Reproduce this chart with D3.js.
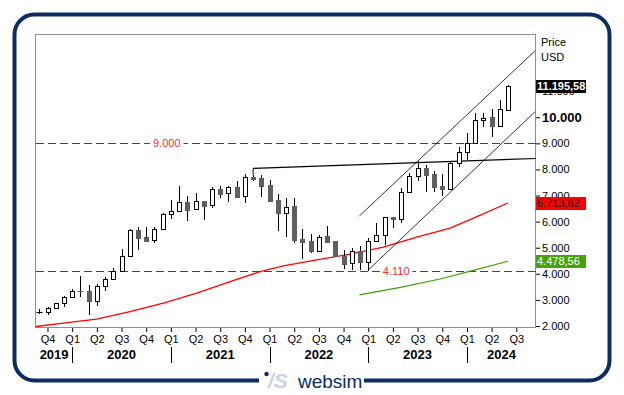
<!DOCTYPE html>
<html>
<head>
<meta charset="utf-8">
<script src="https://cdn.jsdelivr.net/npm/d3@7"></script>
<style>
  body { margin: 0; background: #fff; }
  svg { display: block; font-family: "Liberation Sans", Arial, sans-serif; }
</style>
</head>
<body>
<script>
// monthly candles, Sep 2019 .. Jun 2024 (index 0 = Sep 2019)
var open  = [2520, 2530, 2683, 2874, 3104, 3345, 3345, 2974, 3526, 3805,
             4112, 4675, 5682, 5400, 5288, 5709, 6295, 6390, 6744, 6475,
             6794, 6629, 7242, 7088, 7318, 6985, 7701, 7663, 7406, 6832,
             6322, 6602, 5338, 5261, 4889, 5453, 5261, 4698, 4407, 4889,
             4445, 5261, 5491, 6169, 6092, 7150, 7751, 8046, 7828, 7368,
             7242, 8238, 8682, 9004, 9897, 10000, 9678, 10280];
var high  = [2650, 2744, 2886, 3166, 3434, 3920, 3575, 3614, 3870, 4215,
             4955, 5709, 5809, 5786, 5786, 6322, 6832, 7380, 6973, 7088,
             6794, 7318, 7368, 7368, 7548, 7828, 7790, 7790, 7598, 7062,
             6920, 6897, 5721, 5518, 5491, 5836, 5261, 4916, 4981, 5069,
             5364, 5962, 6192, 6169, 7290, 7855, 8314, 8173, 7954, 7828,
             8299, 8874, 9387, 10153, 10176, 10318, 10663, 11237];
var low   = [2460, 2426, 2675, 2744, 3100, 3127, 2426, 2771, 3345, 3794,
             4112, 4636, 4916, 5234, 5196, 5709, 6104, 6384, 6039, 6475,
             6066, 6514, 6920, 6767, 6958, 6728, 7571, 6958, 6805, 5656,
             5403, 5196, 4583, 4790, 4889, 5173, 4660, 4177, 4150, 4150,
             4110, 5234, 5108, 5748, 5939, 7150, 7560, 7150, 7119, 6985,
             7215, 8107, 8364, 9004, 9640, 9234, 9640, 10253];
var close = [2530, 2683, 2874, 3104, 3345, 3330, 2974, 3526, 3805, 4112,
             4675, 5682, 5388, 5261, 5709, 6295, 6399, 6744, 6449, 6782,
             6613, 7242, 7073, 7318, 6958, 7701, 7648, 7368, 6805, 6322,
             6575, 5299, 5234, 4889, 5426, 5234, 4698, 4380, 4878, 4445,
             5261, 5491, 6169, 6092, 7150, 7751, 8046, 7790, 7341, 7242,
             8238, 8682, 9004, 9897, 9985, 9678, 10306, 11195.58];

// quarter labels, first one sits on Oct 2019 (index 1), then every 3 months
var quarterLabels = ["Q4", "Q1", "Q2", "Q3", "Q4", "Q1", "Q2", "Q3", "Q4", "Q1",
                     "Q2", "Q3", "Q4", "Q1", "Q2", "Q3", "Q4", "Q1", "Q2", "Q3"];
var yearLabels = ["2019", "2020", "2021", "2022", "2023", "2024"];
var yTicks = [2000, 3000, 4000, 5000, 6000, 7000, 8000, 9000, 10000, 11000];

// moving averages: [month index, value]
var redMA = [[-0.44, 1978], [2.92, 2108], [6.98, 2261], [11.03, 2553], [15.09, 2874],
             [19.15, 3257], [23.2, 3702], [26.85, 4085], [29.68, 4303], [33.75, 4533],
             [37.8, 4752], [41.85, 5020], [45.9, 5403], [49.96, 5748], [52.8, 6131],
             [57, 6713.62]];
var greenMA = [[38.93, 3192], [43.9, 3480], [48.75, 3800], [53, 4150], [57, 4478.56]];

// trend lines: [month index, value]
var resistance = [[26, 8039], [60.4, 8422]];
var resistanceTick = [[26, 8039], [26, 7790]];
var channelTop = [[38.93, 6219], [60.3, 12551]];
var channelBottom = [[40.02, 4150], [60.3, 10215]];

var levels = [9000, 4110];
var levelLabelAt = [15.5, 43.4];
var lastValues = [11195.58, 6713.62, 4478.56];

var plot = { left: 36, right: 536, top: 34, bottom: 328 };

var de = d3.formatLocale({ decimal: ",", thousands: ".", grouping: [3], currency: ["", ""] });
var fmt0 = de.format(",.0f"),
    fmt2 = de.format(",.2f");

var x = d3.scaleLinear().domain([-0.4, 60.4]).range([plot.left, plot.right]);
var y = d3.scaleLinear().domain([1923, 13191]).range([plot.bottom, plot.top]);

function cx(i) { return Math.round(x(i)) + 0.5; }

var svg = d3.select("body").append("svg")
    .attr("width", 624)
    .attr("height", 395);

// outer frame
svg.append("rect")
    .attr("x", 14.5).attr("y", 14.5)
    .attr("width", 595).attr("height", 366)
    .attr("rx", 20)
    .attr("fill", "#fff")
    .attr("stroke", "#0b2d5f")
    .attr("stroke-width", 4);

svg.append("defs").append("clipPath").attr("id", "clip")
    .append("rect")
    .attr("x", plot.left).attr("y", plot.top)
    .attr("width", plot.right - plot.left).attr("height", plot.bottom - plot.top);

// plot border
svg.append("rect")
    .attr("x", plot.left - 0.5).attr("y", plot.top + 0.5)
    .attr("width", plot.right - plot.left).attr("height", plot.bottom - plot.top - 1)
    .attr("fill", "none")
    .attr("stroke", "#8c8ca0");

var g = svg.append("g").attr("clip-path", "url(#clip)");

// dashed levels with labels
levels.forEach(function (v, k) {
    var yy = Math.round(y(v)) + 0.5;
    g.append("line")
        .attr("x1", plot.left).attr("x2", plot.right)
        .attr("y1", yy).attr("y2", yy)
        .attr("stroke", "#e8000b")
        .attr("stroke-dasharray", "8,4");
    var t = g.append("text")
        .attr("x", x(levelLabelAt[k]))
        .attr("y", yy)
        .attr("dy", "0.35em")
        .attr("text-anchor", "middle")
        .attr("font-size", 11)
        .attr("fill", "#ff2a2a")
        .text(fmt0(v));
    var bb = t.node().getBBox();
    g.insert("rect", function () { return t.node(); })
        .attr("x", bb.x - 3).attr("y", bb.y)
        .attr("width", bb.width + 6).attr("height", bb.height)
        .attr("fill", "#fff");
});

// moving averages
var line = d3.line()
    .x(function (d) { return x(d[0]); })
    .y(function (d) { return y(d[1]); });

g.append("path").attr("d", line(redMA))
    .attr("fill", "none").attr("stroke", "#ff0000").attr("stroke-width", 1.3);
g.append("path").attr("d", line(greenMA))
    .attr("fill", "none").attr("stroke", "#3aa000").attr("stroke-width", 1.1);

// trend lines
g.append("path").attr("d", line(resistance))
    .attr("fill", "none").attr("stroke", "#000").attr("stroke-width", 1.1);
g.append("path").attr("d", line(resistanceTick))
    .attr("fill", "none").attr("stroke", "#000").attr("stroke-width", 1);
[channelTop, channelBottom].forEach(function (c) {
    g.append("path").attr("d", line(c))
        .attr("fill", "none").attr("stroke", "#000").attr("stroke-width", 0.8);
});

// candles
var candles = close.map(function (c, i) {
    return { i: i, o: open[i], h: high[i], l: low[i], c: c, up: c >= open[i] };
});

g.selectAll(".wick")
    .data(candles)
    .enter().append("line")
    .attr("class", "wick")
    .attr("x1", function (d) { return cx(d.i); })
    .attr("x2", function (d) { return cx(d.i); })
    .attr("y1", function (d) { return Math.round(y(d.h)); })
    .attr("y2", function (d) { return Math.round(y(d.l)); })
    .attr("stroke", "#000");

candles.forEach(function (d) {
    var top = Math.round(y(Math.max(d.o, d.c))),
        bot = Math.round(y(Math.min(d.o, d.c)));
    var col = d.up ? "#000" : "#5f5f5f";
    if (bot - top < 1) {
        g.append("line")
            .attr("x1", cx(d.i) - 3).attr("x2", cx(d.i) + 3)
            .attr("y1", top + 0.5).attr("y2", top + 0.5)
            .attr("stroke", col);
        return;
    }
    g.append("rect")
        .attr("x", cx(d.i) - 2).attr("y", top + 0.5)
        .attr("width", 4).attr("height", bot - top)
        .attr("fill", d.up ? "#fff" : "#5f5f5f")
        .attr("stroke", col);
});

// y axis on the right
var yAxis = svg.append("g")
    .attr("transform", "translate(" + plot.right + ",0)")
    .call(d3.axisRight(y).tickValues(yTicks).tickSize(4).tickPadding(2).tickFormat(fmt0));
yAxis.select(".domain").remove();
yAxis.attr("font-family", null).attr("font-size", 11);
yAxis.selectAll("text").attr("fill", "#000")
    .filter(function (d) { return d === 10000; })
    .attr("font-weight", "bold").attr("font-size", 13);

svg.append("text").attr("x", 541).attr("y", 42).attr("dy", "0.35em")
    .attr("font-size", 11).text("Price");
svg.append("text").attr("x", 541).attr("y", 57).attr("dy", "0.35em")
    .attr("font-size", 11).text("USD");

// value boxes
var boxFill = ["#000", "#ff0000", "#48a30a"],
    boxText = ["#fff", "#200000", "#fff"],
    boxWeight = ["bold", "normal", "normal"];
lastValues.forEach(function (v, k) {
    var yy = y(v);
    svg.append("rect")
        .attr("x", plot.right).attr("y", Math.round(yy - 6.5))
        .attr("width", 50).attr("height", 13)
        .attr("fill", boxFill[k]);
    svg.append("text")
        .attr("x", plot.right + 1).attr("y", Math.round(yy - 6.5) + 6.5)
        .attr("dy", "0.35em")
        .attr("font-size", 11)
        .attr("font-weight", boxWeight[k])
        .attr("fill", boxText[k])
        .text(fmt2(v));
});

// x axis: quarters
var quarterIdx = quarterLabels.map(function (q, k) { return 1 + 3 * k; });
var xAxis = svg.append("g")
    .attr("transform", "translate(0," + plot.bottom + ")")
    .call(d3.axisBottom(x).tickValues(quarterIdx).tickSize(4).tickPadding(3)
        .tickFormat(function (d, k) { return quarterLabels[k]; }));
xAxis.select(".domain").remove();
xAxis.attr("font-family", null).attr("font-size", 11);
xAxis.selectAll("text").attr("fill", "#000");

// years: separators on each January, labels centred in between
var janIdx = quarterIdx.filter(function (d, k) { return quarterLabels[k] === "Q1"; });
var bounds = [plot.left].concat(janIdx.map(x), [plot.right]);

svg.selectAll(".sep")
    .data(janIdx)
    .enter().append("line")
    .attr("x1", function (d) { return cx(d); })
    .attr("x2", function (d) { return cx(d); })
    .attr("y1", 347).attr("y2", 363)
    .attr("stroke", "#000");

svg.selectAll(".year")
    .data(yearLabels)
    .enter().append("text")
    .attr("x", function (d, k) { return (bounds[k] + bounds[k + 1]) / 2; })
    .attr("y", 359)
    .attr("text-anchor", "middle")
    .attr("font-size", 13)
    .attr("font-weight", "bold")
    .text(function (d) { return d; });

// logo in the bottom frame line
svg.append("rect").attr("x", 259).attr("y", 375).attr("width", 105).attr("height", 12).attr("fill", "#fff");
svg.append("circle").attr("cx", 266.5).attr("cy", 374).attr("r", 2.2).attr("fill", "#0b2d5f");
svg.append("text").attr("x", 268).attr("y", 388)
    .attr("font-size", 21).attr("font-weight", "bold").attr("font-style", "italic")
    .attr("fill", "#c7d3e3").text("/S");
svg.append("text").attr("x", 298).attr("y", 388)
    .attr("font-size", 19).attr("fill", "#0b2d5f").text("websim");
</script>
</body>
</html>
